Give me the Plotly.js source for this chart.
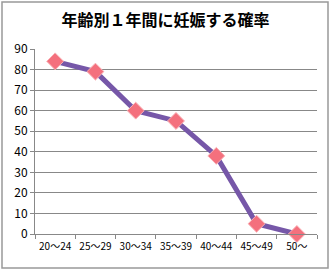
<!DOCTYPE html>
<html><head><meta charset="utf-8">
<script src="https://cdn.plot.ly/plotly-3.0.1.min.js"></script>
<style>html,body{margin:0;padding:0;background:#fff;}#c{width:331px;height:273px;}</style>
</head><body><div id="c"></div>
<script>
const categories = ["20～24","25～29","30～34","35～39","40～44","45～49","50～"];
const probability = [84, 79, 60, 55, 38, 5, 0];
const yTicks = [0,10,20,30,40,50,60,70,80,90];

Plotly.newPlot("c", [{
  x: categories, y: probability, type: "scatter", mode: "lines+markers",
  line: {color: "#7657A8", width: 5},
  marker: {symbol: "diamond", size: 13, color: "#F4707D", line: {color: "#F9B0B5", width: 1}},
  cliponaxis: false
}], {
  width: 331, height: 273,
  margin: {l: 35, r: 14, t: 49, b: 39},
  paper_bgcolor: "#fff", plot_bgcolor: "#fff",
  showlegend: false,
  title: {text: "年齢別１年間に妊娠する確率", x: 0.5, xanchor: "center", y: 0.925, yanchor: "middle",
    font: {family: "Noto Sans CJK JP", size: 16, color: "#000", weight: "bold"}},
  font: {family: "Noto Sans CJK JP", size: 11, color: "#000"},
  xaxis: {type: "category", tickson: "boundaries", ticks: "outside", ticklen: 4, tickcolor: "#888",
    showline: true, linecolor: "#888", linewidth: 1, showgrid: false, zeroline: false,
    tickangle: 0, automargin: false, ticklabelstandoff: 3,
    tickfont: {size: 10}, range: [-0.5, 6.5], fixedrange: true},
  yaxis: {range: [0, 90], tickvals: yTicks, ticks: "outside", ticklen: 4, tickcolor: "#888",
    showline: true, linecolor: "#888", linewidth: 1, gridcolor: "#888", gridwidth: 1, zeroline: false,
    tickfont: {size: 12}, fixedrange: true},
  shapes: [{type: "rect", xref: "paper", yref: "paper", layer: "below",
     x0: -33/282, x1: 1 + 11/282, y0: -(273-234-5)/185, y1: 1 + 47/185,
     line: {color: "#999", width: 1.5}}]
}, {staticPlot: true});
</script></body></html>
